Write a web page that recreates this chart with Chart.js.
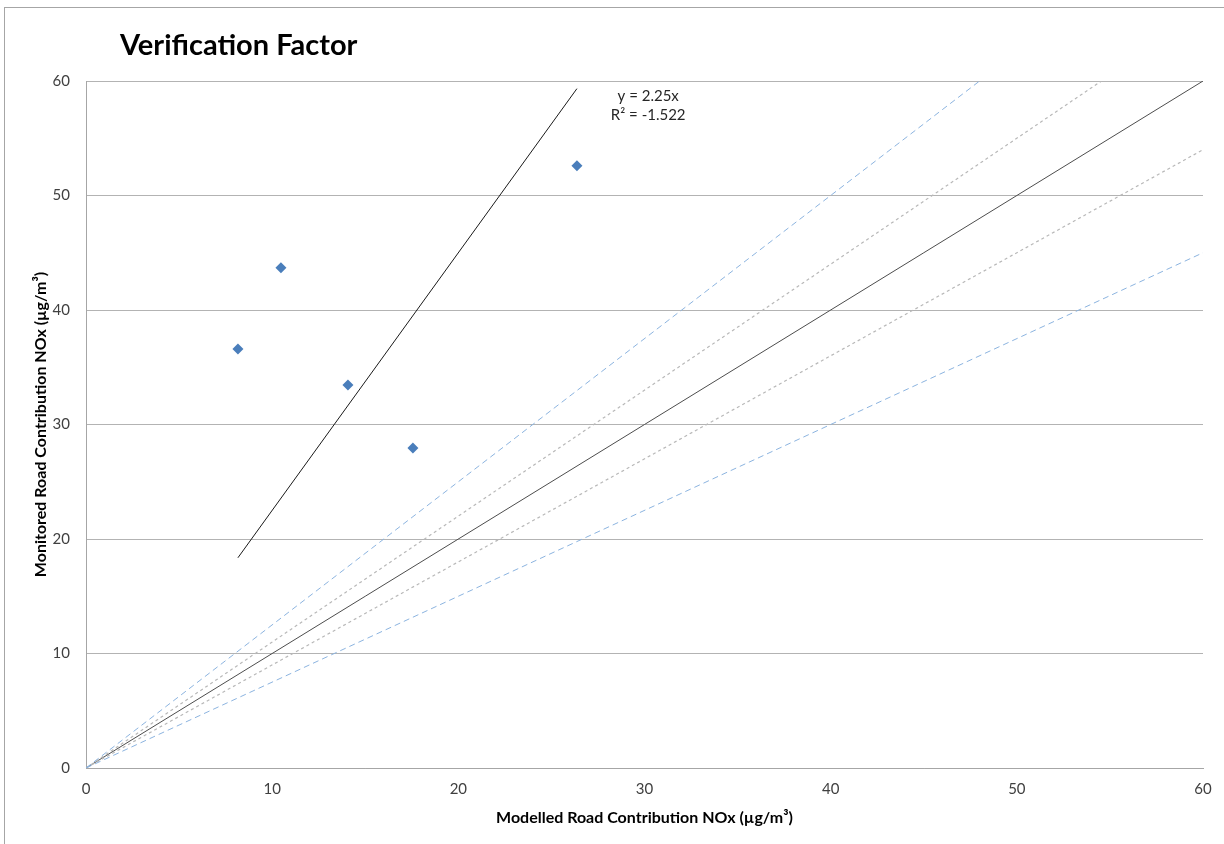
<!DOCTYPE html>
<html>
<head>
<meta charset="utf-8">
<script src="https://cdn.jsdelivr.net/npm/chart.js@4"></script>
<style>
html,body{margin:0;padding:0;background:#fff;}
#wrap{width:1224px;height:844px;position:relative;}
</style>
</head>
<body>
<div id="wrap"><canvas id="c" width="1224" height="844"></canvas></div>
<script>
// ---- data ----
const modelled = [8.16, 10.47, 14.07, 17.56, 26.37];
const monitored = [36.6, 43.7, 33.45, 27.95, 52.6];
const trendSlope = 2.25;
const trendR2 = -1.522;
const ratioSolid = [1.0];
const ratioDotted = [1.1, 0.9];
const ratioDashed = [1.25, 0.75];
const axisMin = 0;
const axisMax = 60;
const axisStep = 10;
const chartTitle = 'Verification Factor';
const xTitle = 'Modelled Road Contribution NOx (\u00b5g/m\u00b3)';
const yTitle = 'Monitored Road Contribution NOx (\u00b5g/m\u00b3)';

const FONT = 'Lato, "Open Sans", sans-serif';

function ratioLine(r) {
  const xEnd = Math.min(axisMax, axisMax / r);
  return [{x: 0, y: 0}, {x: xEnd, y: r * xEnd}];
}

const pts = modelled.map((x, i) => ({x: x, y: monitored[i]}));
const xLo = Math.min(...modelled), xHi = Math.max(...modelled);
const trendPts = [{x: xLo, y: trendSlope * xLo}, {x: xHi, y: trendSlope * xHi}];

const datasets = [];
ratioDashed.forEach(r => datasets.push({type:'line', data: ratioLine(r), borderColor:'#8cb4e0', borderWidth:1, borderDash:[6,4], pointRadius:0, fill:false}));
ratioDotted.forEach(r => datasets.push({type:'line', data: ratioLine(r), borderColor:'#b8b8b8', borderWidth:1.2, borderDash:[3,3], pointRadius:0, fill:false}));
ratioSolid.forEach(r => datasets.push({type:'line', data: ratioLine(r), borderColor:'#4d4d4d', borderWidth:1, pointRadius:0, fill:false}));
datasets.push({type:'line', data: trendPts, borderColor:'#1a1a1a', borderWidth:1, pointRadius:0, fill:false});
datasets.push({type:'scatter', data: pts, pointStyle:'rectRot', pointRadius:5.5, pointHoverRadius:5.5, backgroundColor:'#4a7ebb', borderColor:'#4a7ebb', borderWidth:0});

const decor = {
  id: 'decor',
  beforeDraw(chart) {
    const ctx = chart.ctx;
    ctx.save();
    ctx.fillStyle = '#fff';
    ctx.fillRect(0, 0, chart.width, chart.height);
    ctx.strokeStyle = '#a6a6a6';
    ctx.lineWidth = 1;
    ctx.strokeRect(4.5, 7.5, chart.width + 10, chart.height + 10);
    ctx.restore();
  },
  afterDraw(chart) {
    const ctx = chart.ctx;
    const xs = chart.scales.x, ys = chart.scales.y;
    ctx.save();
    ctx.fillStyle = '#000';
    ctx.font = 'bold 29px ' + FONT;
    ctx.textAlign = 'left';
    ctx.textBaseline = 'alphabetic';
    ctx.fillText(chartTitle, 120, 55);
    ctx.fillStyle = '#262626';
    ctx.font = '15px ' + FONT;
    ctx.textAlign = 'center';
    ctx.textBaseline = 'middle';
    const lx = xs.getPixelForValue(30.2);
    ctx.fillText('y = ' + trendSlope.toFixed(2) + 'x', lx, ys.getPixelForValue(58.7));
    ctx.fillText('R\u00b2 = ' + trendR2.toFixed(3), lx, ys.getPixelForValue(57.0));
    ctx.restore();
  }
};

new Chart(document.getElementById('c'), {
  data: { datasets: datasets },
  options: {
    responsive: false,
    animation: false,
    events: [],
    layout: { padding: { left: 0, top: 81, right: 21, bottom: 0 } },
    plugins: { legend: { display: false }, tooltip: { enabled: false } },
    scales: {
      x: {
        type: 'linear', min: axisMin, max: axisMax,
        grid: { display: false, drawTicks: false },
        border: { display: true, color: '#a6a6a6', width: 1 },
        ticks: { stepSize: axisStep, color: '#404040', font: { family: FONT, size: 15 }, padding: 12, maxRotation: 0 },
        title: { display: true, text: xTitle, color: '#000', font: { family: FONT, size: 16, weight: 'bold' }, padding: { top: 0, bottom: 17 } },
        afterFit(s) { s.height = 76; }
      },
      y: {
        type: 'linear', min: axisMin, max: axisMax,
        grid: { display: true, color: '#b3b3b3', lineWidth: 1, drawTicks: false },
        border: { display: true, color: '#a6a6a6', width: 1 },
        ticks: { stepSize: axisStep, color: '#404040', font: { family: FONT, size: 15 }, padding: 16 },
        title: { display: true, text: yTitle, color: '#000', font: { family: FONT, size: 16, weight: 'bold' }, padding: { top: 31, bottom: 0 } },
        afterFit(s) { s.width = 86; }
      }
    }
  },
  plugins: [decor]
});
</script>
</body>
</html>
